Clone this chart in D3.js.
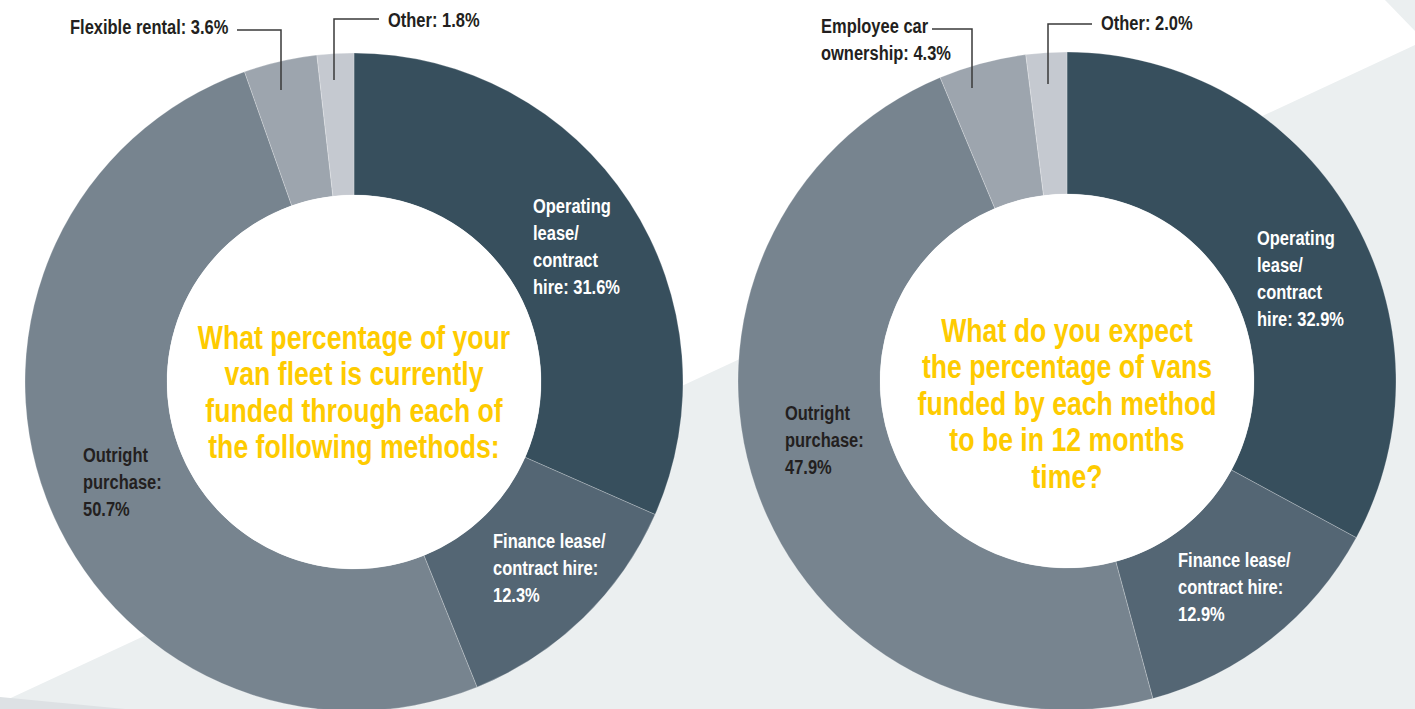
<!DOCTYPE html>
<html>
<head>
<meta charset="utf-8">
<script src="https://cdn.jsdelivr.net/npm/d3@7"></script>
<style>
  html, body { margin: 0; padding: 0; background: #ffffff; }
  svg { display: block; }
  text { font-family: "Liberation Sans", Arial, sans-serif; font-weight: bold; }
</style>
</head>
<body>
<svg id="chart" width="1415" height="709"></svg>
<script>
// Funding methods, slices listed clockwise from 12 o'clock
const currentCategories = ["Operating lease/contract hire", "Finance lease/contract hire", "Outright purchase", "Flexible rental", "Other"];
const currentValues = [31.6, 12.3, 50.7, 3.6, 1.8];

const expectedCategories = ["Operating lease/contract hire", "Finance lease/contract hire", "Outright purchase", "Employee car ownership", "Other"];
const expectedValues = [32.9, 12.9, 47.9, 4.3, 2.0];

const sliceColors = ["#374f5d", "#546674", "#77848f", "#9da5ae", "#c5c9d0"];

const currentQuestion = ["What percentage of your", "van fleet is currently", "funded through each of", "the following methods:"];
const expectedQuestion = ["What do you expect", "the percentage of vans", "funded by each method", "to be in 12 months", "time?"];

const pct = v => v.toFixed(1) + "%";

// Label text for each slice, built from its value
const currentLabels = [
  v => ["Operating", "lease/", "contract", "hire: " + pct(v)],
  v => ["Finance lease/", "contract hire:", pct(v)],
  v => ["Outright", "purchase:", pct(v)],
  v => ["Flexible rental: " + pct(v)],
  v => ["Other: " + pct(v)]
];
const expectedLabels = [
  v => ["Operating", "lease/", "contract", "hire: " + pct(v)],
  v => ["Finance lease/", "contract hire:", pct(v)],
  v => ["Outright", "purchase:", pct(v)],
  v => ["Employee car", "ownership: " + pct(v)],
  v => ["Other: " + pct(v)]
];

const svg = d3.select("#chart");
const W = 1415, H = 709;

// Condensed type: regular bold face squeezed horizontally
const labelSize = 21, labelSquash = 0.785, labelLead = 27;
const titleSize = 32.5, titleSquash = 0.82, titleLead = 36.5;

// Background panels
const bg = svg.append("g");
bg.append("polygon").attr("points", [[0, 703], [W, 45], [W, H], [0, H]].join(" ")).attr("fill", "#ebeff0");
bg.append("polygon").attr("points", [[1385, 0], [W, 0], [W, 31]].join(" ")).attr("fill", "#ebeff0");
bg.append("polygon").attr("points", [[0, 697], [125, H], [0, H]].join(" ")).attr("fill", "#dde1e4");

const outerR = 329, innerR = 187;
const pie = d3.pie().sort(null).value(d => d);
const arc = d3.arc().innerRadius(innerR).outerRadius(outerR);

const ink = "#231f20";

function donut(cfg) {
  const g = svg.append("g").attr("transform", `translate(${cfg.cx},${cfg.cy})`);
  const arcs = pie(cfg.values);
  g.selectAll("path.slice")
    .data(arcs)
    .join("path")
    .attr("class", "slice")
    .attr("d", arc)
    .attr("fill", (d, i) => sliceColors[i])
    .attr("stroke", "#ffffff")
    .attr("stroke-opacity", 0.3)
    .attr("stroke-width", 0.8);

  g.append("circle").attr("r", innerR).attr("fill", "#ffffff");

  // Question in the hole
  const q = g.append("g").attr("transform", `translate(0,${cfg.qTop}) scale(${titleSquash},1)`);
  q.selectAll("text")
    .data(cfg.question)
    .join("text")
    .attr("x", 0)
    .attr("y", (d, i) => i * titleLead)
    .attr("text-anchor", "middle")
    .attr("fill", "#fecb00")
    .attr("font-size", titleSize)
    .text(d => d);

  // Slice labels
  cfg.values.forEach((v, i) => {
    const pos = cfg.labelPos[i];
    const lines = cfg.labels[i](v);
    const t = svg.append("text")
      .attr("transform", `translate(${pos.x},${pos.y}) scale(${labelSquash},1)`)
      .attr("fill", pos.color)
      .attr("font-size", labelSize);
    lines.forEach((line, j) => {
      t.append("tspan").attr("x", 0).attr("dy", j === 0 ? 0 : labelLead).text(line);
    });
    if (pos.leader) {
      svg.append("polyline")
        .attr("points", pos.leader.join(" "))
        .attr("fill", "none")
        .attr("stroke", "#3a3a3a")
        .attr("stroke-width", 1.5);
    }
  });
}

donut({
  cx: 354, cy: 382,
  values: currentValues,
  labels: currentLabels,
  question: currentQuestion,
  qTop: -33,
  labelPos: [
    { x: 533, y: 213, color: "#ffffff" },
    { x: 493, y: 548, color: "#ffffff" },
    { x: 83, y: 462, color: ink },
    { x: 70, y: 34, color: ink, leader: [[237, 30], [281, 30], [281, 90]] },
    { x: 388, y: 27, color: ink, leader: [[379, 19], [334, 19], [334, 80]] }
  ]
});

donut({
  cx: 1067, cy: 381,
  values: expectedValues,
  labels: expectedLabels,
  question: expectedQuestion,
  qTop: -39,
  labelPos: [
    { x: 1257, y: 245, color: "#ffffff" },
    { x: 1178, y: 567, color: "#ffffff" },
    { x: 785, y: 420, color: ink },
    { x: 821, y: 33, color: ink, leader: [[932, 29], [972, 29], [972, 88]] },
    { x: 1101, y: 30, color: ink, leader: [[1092, 24], [1048, 24], [1048, 84]] }
  ]
});
</script>
</body>
</html>
